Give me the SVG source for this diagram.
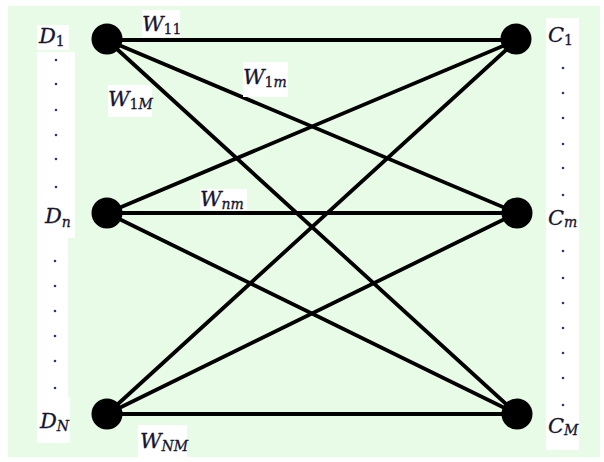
<svg xmlns="http://www.w3.org/2000/svg" width="604" height="462" viewBox="0 0 604 462">
<style>
.bg{fill:#e8fbe6}
.edge{stroke:#000;stroke-width:3.8;stroke-linecap:round}
.node{fill:#000}
.box{fill:#fff}
.lbl{font-family:"DejaVu Serif","Liberation Serif",serif;font-style:italic;font-size:21px;fill:#15152e;stroke:#15152e;stroke-width:0.3}
.sub{font-size:14px}
.n{font-style:normal}
.dot{fill:#2a3a70}
</style>
<rect x="0" y="0" width="604" height="462" fill="#fff"/>
<rect class="bg" x="8" y="6" width="592" height="451"/>

<g id="connectors">
<line class="edge" x1="107" y1="40" x2="517" y2="40"/>
<line class="edge" x1="107" y1="40" x2="517" y2="213"/>
<line class="edge" x1="107" y1="40" x2="517" y2="414"/>
<line class="edge" x1="107" y1="213" x2="517" y2="40"/>
<line class="edge" x1="107" y1="213" x2="517" y2="213"/>
<line class="edge" x1="107" y1="213" x2="517" y2="414"/>
<line class="edge" x1="107" y1="414" x2="517" y2="40"/>
<line class="edge" x1="107" y1="414" x2="517" y2="213"/>
<line class="edge" x1="107" y1="414" x2="517" y2="414"/>
</g>

<g id="node-D1"><circle class="node" cx="107" cy="39" r="15.5"/>
<rect class="box" x="37" y="25" width="32" height="25"/>
<text class="lbl" x="39" y="43">D<tspan class="sub n" dy="3">1</tspan></text></g>

<g id="dots-left-1">
<rect class="box" x="37" y="52" width="38" height="146"/>
<circle class="dot" cx="56" cy="60" r="1.3"/><circle class="dot" cx="56" cy="84" r="1.3"/><circle class="dot" cx="56" cy="110" r="1.3"/><circle class="dot" cx="56" cy="135" r="1.3"/><circle class="dot" cx="56" cy="159" r="1.3"/><circle class="dot" cx="56" cy="187" r="1.3"/>
</g>

<g id="node-Dn"><circle class="node" cx="107" cy="213" r="15.5"/>
<rect class="box" x="37" y="198" width="38" height="40"/>
<text class="lbl" x="45" y="223">D<tspan class="sub" dy="4">n</tspan></text></g>

<g id="dots-left-2">
<rect class="box" x="37" y="238" width="31" height="159"/>
<circle class="dot" cx="55" cy="261" r="1.3"/><circle class="dot" cx="55" cy="286" r="1.3"/><circle class="dot" cx="55" cy="311" r="1.3"/><circle class="dot" cx="55" cy="336" r="1.3"/><circle class="dot" cx="55" cy="361" r="1.3"/><circle class="dot" cx="55" cy="388" r="1.3"/>
</g>

<g id="node-DN"><circle class="node" cx="107" cy="414" r="15.5"/>
<rect class="box" x="37" y="397" width="33" height="46"/>
<text class="lbl" x="40" y="428">D<tspan class="sub" dy="3">N</tspan></text></g>

<g id="node-C1"><circle class="node" cx="516" cy="39" r="15.5"/></g>
<g id="node-Cm"><circle class="node" cx="517" cy="213" r="15.5"/></g>
<g id="node-CM"><circle class="node" cx="517" cy="414" r="15.5"/></g>

<g id="labels-right">
<rect class="box" x="546" y="18" width="33" height="432"/>
<text class="lbl" x="548" y="42">C<tspan class="sub n" dy="3">1</tspan></text>
<circle class="dot" cx="563" cy="68" r="1.3"/><circle class="dot" cx="563" cy="93" r="1.3"/><circle class="dot" cx="563" cy="118" r="1.3"/><circle class="dot" cx="563" cy="144" r="1.3"/><circle class="dot" cx="563" cy="168" r="1.3"/><circle class="dot" cx="563" cy="195" r="1.3"/>
<text class="lbl" x="548" y="225">C<tspan class="sub" dy="2">m</tspan></text>
<circle class="dot" cx="563" cy="251" r="1.3"/><circle class="dot" cx="563" cy="278" r="1.3"/><circle class="dot" cx="563" cy="303" r="1.3"/><circle class="dot" cx="563" cy="328" r="1.3"/><circle class="dot" cx="563" cy="353" r="1.3"/><circle class="dot" cx="563" cy="378" r="1.3"/><circle class="dot" cx="563" cy="405" r="1.3"/>
<text class="lbl" x="548" y="433">C<tspan class="sub" dy="2">M</tspan></text>
</g>

<g id="weights">
<rect class="box" x="142" y="10" width="38" height="27"/>
<text class="lbl" x="142" y="31">W<tspan class="sub n" dy="3">11</tspan></text>
<rect class="box" x="243" y="62" width="45" height="35"/>
<text class="lbl" x="243" y="84">W<tspan class="sub n" dy="3">1</tspan><tspan class="sub">m</tspan></text>
<rect class="box" x="108" y="85" width="44" height="32"/>
<text class="lbl" x="108" y="106">W<tspan class="sub n" dy="3">1</tspan><tspan class="sub">M</tspan></text>
<rect class="box" x="200" y="189" width="47" height="21"/>
<text class="lbl" x="200" y="206">W<tspan class="sub" dy="3">nm</tspan></text>
<rect class="box" x="138" y="425" width="49" height="32"/>
<text class="lbl" x="140" y="448">W<tspan class="sub" dy="3">NM</tspan></text>
</g>
</svg>
